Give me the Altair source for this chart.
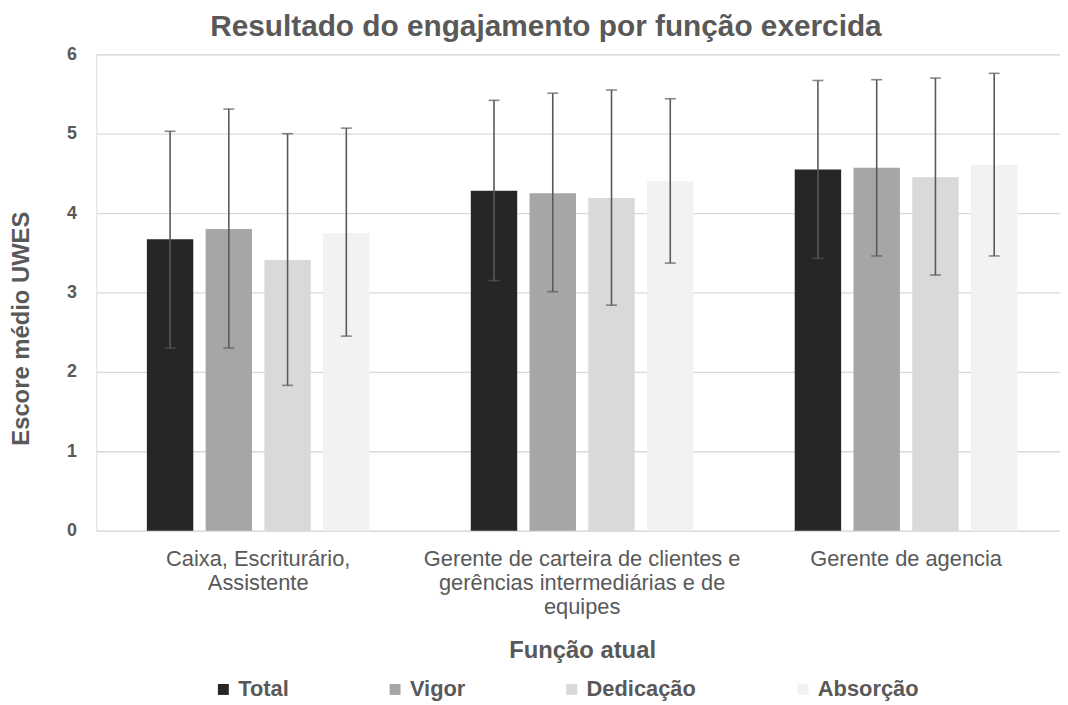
import altair as alt
import pandas as pd

FONT = "Liberation Sans"
TEXT = "#595959"

chart_title = "Resultado do engajamento por função exercida"
roles = [
    "Caixa, Escriturário, Assistente",
    "Gerente de carteira de clientes e gerências intermediárias e de equipes",
    "Gerente de agencia",
]
role_lines = [
    ["Caixa, Escriturário,", "Assistente"],
    ["Gerente de carteira de clientes e", "gerências intermediárias e de", "equipes"],
    ["Gerente de agencia"],
]
series = ["Total", "Vigor", "Dedicação", "Absorção"]
colors = ["#262626", "#a6a6a6", "#d9d9d9", "#f2f2f2"]

means = [[3.67, 3.80, 3.41, 3.75], [4.28, 4.25, 4.19, 4.40], [4.55, 4.57, 4.45, 4.61]]
lows = [[2.30, 2.30, 1.83, 2.45], [3.15, 3.01, 2.84, 3.37], [3.43, 3.46, 3.22, 3.46]]
highs = [[5.03, 5.31, 5.00, 5.07], [5.42, 5.51, 5.55, 5.44], [5.67, 5.68, 5.70, 5.76]]
y_ticks = [0, 1, 2, 3, 4, 5, 6]

rows = []
for i, r in enumerate(roles):
    for j, s in enumerate(series):
        rows.append({"role": r, "series": s, "mean": means[i][j], "lo": lows[i][j], "hi": highs[i][j]})
df = pd.DataFrame(rows)

expr = ""
for r, lines in zip(roles, role_lines):
    arr = "[" + ",".join("'" + l + "'" for l in lines) + "]"
    expr += f"datum.value === '{r}' ? {arr} : "
expr += "datum.label"

x = alt.X(
    "role:N",
    sort=roles,
    scale=alt.Scale(domain=roles, range=[0, 979], paddingInner=0.3126, paddingOuter=0.156),
    axis=alt.Axis(
        title="Função atual", labelExpr=expr, labelAngle=0, labelFontSize=22, labelLineHeight=24,
        labelColor=TEXT, labelFont=FONT, labelPadding=18, labelBaseline="top", labelLimit=500,
        ticks=False, domain=False, titleFont=FONT, titleFontSize=24, titleFontWeight="bold",
        titleColor=TEXT, titleX=489.5, titleY=121, titleBaseline="middle",
    ),
)
xo = alt.XOffset("series:N", sort=series,
                 scale=alt.Scale(domain=series, paddingInner=0.21, paddingOuter=0))

y_axis = alt.Axis(
    values=y_ticks, format="d", title="Escore médio UWES", grid=True, gridColor="#d9d9d9",
    gridWidth=1.3, domain=False, ticks=False, labelFont=FONT, labelFontSize=18,
    labelFontWeight="bold", labelColor=TEXT, labelPadding=20, titleFont=FONT, titleFontSize=24,
    titleFontWeight="bold", titleColor=TEXT, titleX=-75, titleY=276, titleBaseline="middle",
    titleAngle=270,
)
yscale = alt.Scale(domain=[0, 6], nice=False)

bars = alt.Chart(df).mark_bar().encode(
    x=x, xOffset=xo,
    y=alt.Y("mean:Q", scale=yscale, axis=y_axis),
    color=alt.Color(
        "series:N", sort=series, scale=alt.Scale(domain=series, range=colors),
        legend=alt.Legend(
            title=None, orient="none", legendX=117, legendY=629, direction="horizontal",
            columns=4, symbolType="square", symbolSize=121, symbolStrokeWidth=0,
            labelFont=FONT, labelFontSize=22, labelFontWeight="bold", labelColor=TEXT,
            labelOffset=4, columnPadding=96,
        ),
    ),
)

err = alt.Chart(df).mark_rule(color="#595959", strokeWidth=1.6).encode(
    x=x, xOffset=xo, y=alt.Y("lo:Q", scale=yscale), y2="hi:Q"
)
cap_lo = alt.Chart(df).mark_tick(orient="horizontal", size=11, thickness=1.6, color="#595959").encode(
    x=x, xOffset=xo, y=alt.Y("lo:Q", scale=yscale)
)
cap_hi = alt.Chart(df).mark_tick(orient="horizontal", size=11, thickness=1.6, color="#595959").encode(
    x=x, xOffset=xo, y=alt.Y("hi:Q", scale=yscale)
)

title_mark = alt.Chart(pd.DataFrame({"t": [chart_title]})).mark_text(
    font=FONT, fontSize=30, fontWeight="bold", color=TEXT, align="center", baseline="alphabetic"
).encode(text="t:N", x=alt.value(453), y=alt.value(-18))

chart = alt.layer(bars, err, cap_lo, cap_hi, title_mark).properties(
    width=971, height=480,
    autosize=alt.AutoSizeParams(type="none"),
    padding={"left": 89, "top": 44, "right": 0, "bottom": 170},
).configure_view(stroke=None).configure(background="white")

chart.save("out.html", embed_options={"renderer": "svg", "actions": False})
